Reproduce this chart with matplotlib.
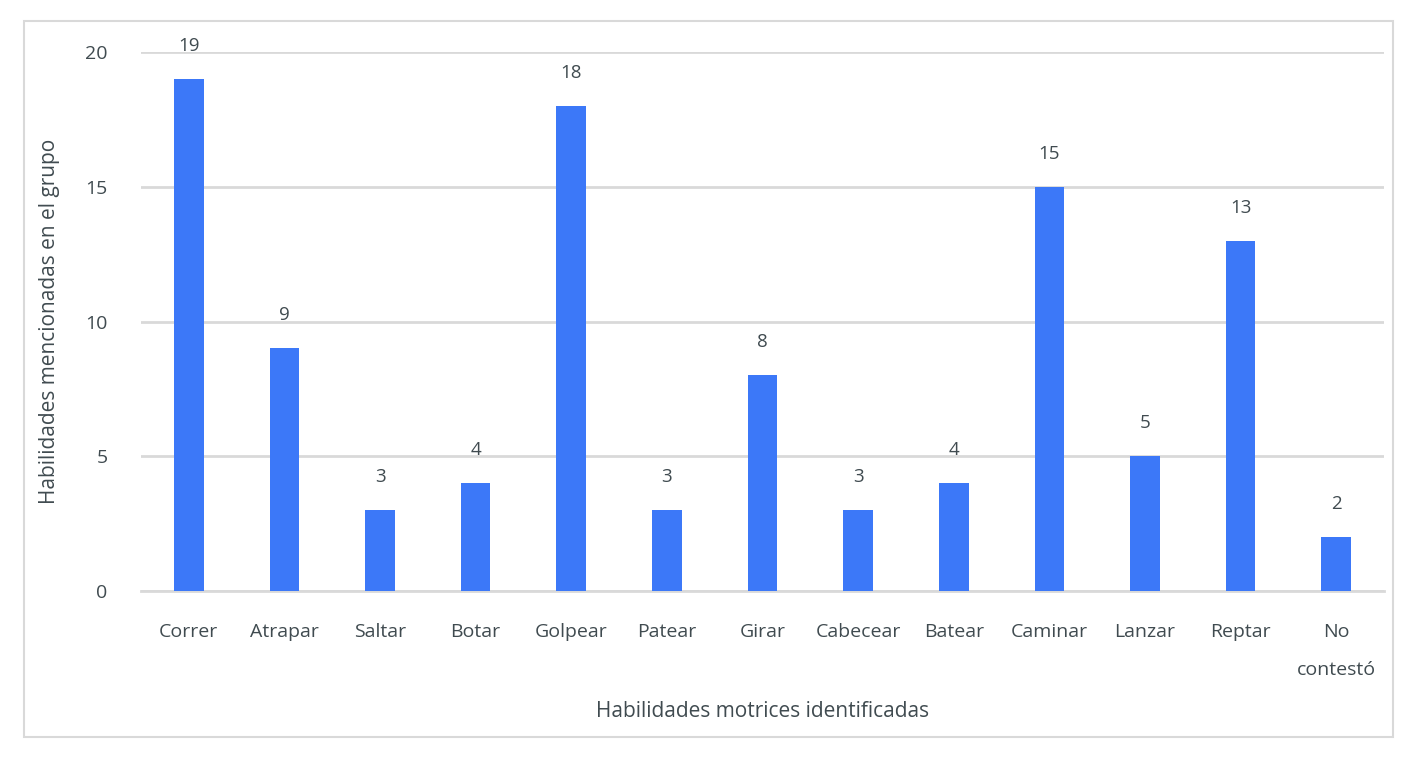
import matplotlib.pyplot as plt
from matplotlib.patches import Rectangle

# Datos
habilidades = ['Correr', 'Atrapar', 'Saltar', 'Botar', 'Golpear', 'Patear', 'Girar',
               'Cabecear', 'Batear', 'Caminar', 'Lanzar', 'Reptar', 'No\ncontestó']
menciones = [19, 9, 3, 4, 18, 3, 8, 3, 4, 15, 5, 13, 2]
marcas_y = [0, 5, 10, 15, 20]

color_barra = '#3C78F8'
color_texto = '#404B50'
color_linea = '#D9D9D9'

plt.rcParams['font.family'] = ['Open Sans', 'DejaVu Sans']

fig = plt.figure(figsize=(14.08, 7.58), dpi=100)
ax = fig.add_axes([0.1001, 0.2203, 0.8829, 0.7111])

x = list(range(len(habilidades)))
ax.bar(x, menciones, width=0.31, color=color_barra, zorder=3)

# Etiquetas de valor encima de cada barra
for xi, v in zip(x, menciones):
    ax.annotate(str(v), (xi, v), xytext=(0, 33), textcoords='offset pixels',
                ha='center', va='center', fontsize=13.5, color=color_texto)

ax.set_xlim(-0.5, len(habilidades) - 0.5)
ax.set_ylim(0, 20)
ax.set_yticks(marcas_y)
ax.set_xticks(x)
ax.set_xticklabels(habilidades, linespacing=2.4)
ax.grid(axis='y', color=color_linea, linewidth=2, zorder=0)
ax.tick_params(axis='both', length=0, labelsize=14, labelcolor=color_texto)
ax.tick_params(axis='y', pad=24)
ax.tick_params(axis='x', pad=23)
for lado in ['left', 'right', 'top']:
    ax.spines[lado].set_visible(False)
ax.spines['bottom'].set_color(color_linea)
ax.spines['bottom'].set_linewidth(2)

ax.set_xlabel('Habilidades motrices identificadas', fontsize=15, color=color_texto, labelpad=16)
ax.set_ylabel('Habilidades mencionadas en el grupo', fontsize=15, color=color_texto, labelpad=18)

# Marco exterior
fig.patches.append(Rectangle((0.017, 0.0277), 0.9722, 0.9446, transform=fig.transFigure,
                             fill=False, edgecolor=color_linea, linewidth=1.5))

fig.savefig('out.png', dpi=100)
